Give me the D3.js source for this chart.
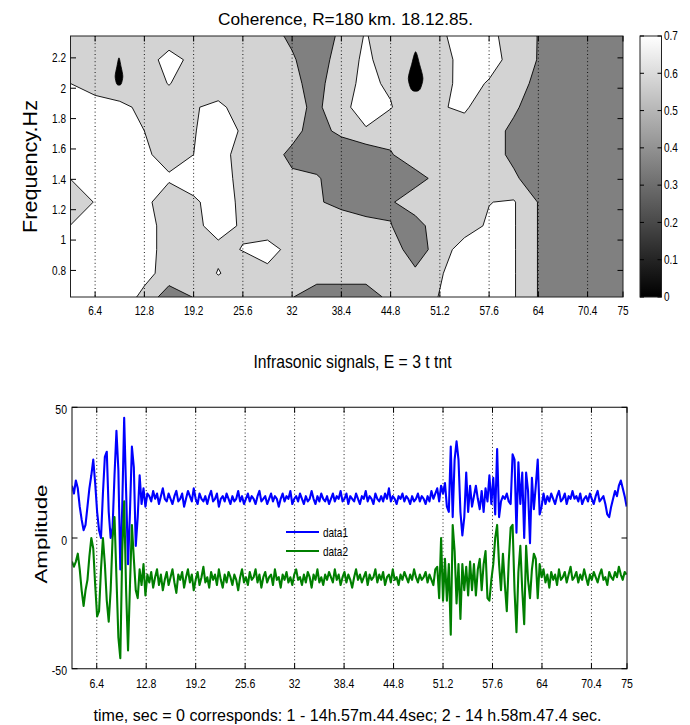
<!DOCTYPE html>
<html><head><meta charset="utf-8">
<script src="https://cdn.jsdelivr.net/npm/d3@7"></script>
<style>
body{margin:0;background:#fff}
svg{display:block}
text{font-family:Arial,"Liberation Sans",Helvetica,sans-serif;fill:#000}
</style>
</head><body>
<svg id="c" width="690" height="725"></svg>
<script>
// ---------------- DATA ----------------
const timeTicks = [6.4, 12.8, 19.2, 25.6, 32, 38.4, 44.8, 51.2, 57.6, 64, 70.4, 75];
const freqTicks = [0.8, 1, 1.2, 1.4, 1.6, 1.8, 2, 2.2];
const cohTicks = [0, 0.1, 0.2, 0.3, 0.4, 0.5, 0.6, 0.7];
const ampTicks = [-50, 0, 50];

// coherence grid: rows = frequencies (low -> high), columns = analysis windows
const winStart = 3.2, winStep = 3.2;       // s
const freqStart = 0.625, freqStep = 0.15625; // Hz
const coherence = [
  [.76,.76,.76,.673,.506,.585,.64,.64,.64,.585,.51,.51,.51,.616,.64,.705,.77,.77,.71,.575,.48,.48,.48,.48],
  [.76,.76,.76,.731,.66,.64,.705,.66,.673,.64,.64,.64,.64,.64,.615,.69,.76,.77,.71,.575,.48,.48,.48,.48],
  [.76,.76,.76,.76,.64,.64,.68,.703,.74,.665,.64,.64,.64,.68,.48,.669,.73,.74,.71,.575,.48,.48,.48,.48],
  [.702,.76,.76,.76,.64,.68,.73,.69,.64,.64,.64,.665,.631,.585,.50,.695,.67,.71,.71,.575,.48,.48,.48,.48],
  [.64,.705,.76,.745,.60,.682,.749,.678,.64,.64,.596,.54,.50,.56,.685,.64,.64,.698,.71,.575,.48,.48,.48,.48],
  [.702,.76,.76,.76,.721,.75,.76,.658,.64,.602,.60,.48,.48,.50,.513,.64,.64,.64,.603,.50,.48,.48,.48,.48],
  [.76,.76,.76,.727,.64,.70,.76,.64,.638,.55,.48,.46,.49,.566,.69,.64,.64,.64,.549,.50,.48,.48,.48,.48],
  [.76,.76,.76,.70,.64,.69,.78,.681,.64,.622,.52,.62,.695,.64,.64,.64,.64,.64,.549,.50,.48,.48,.48,.48],
  [.76,.76,.72,.68,.64,.69,.73,.64,.64,.624,.55,.686,.723,.705,.64,.69,.72,.615,.603,.50,.48,.48,.48,.48],
  [.70,.64,.64,.64,.705,.64,.62,.64,.64,.613,.53,.677,.716,.689,.64,.635,.76,.686,.647,.54,.48,.48,.48,.48],
  [.64,.64,.64,.64,.747,.667,.64,.64,.64,.599,.48,.669,.712,.669,.64,.632,.76,.76,.647,.575,.48,.48,.48,.48],
  [.64,.64,.64,.64,.63,.64,.64,.64,.64,.55,.48,.613,.71,.60,.64,.676,.76,.75,.617,.578,.48,.48,.48,.48]
];
const contourLevels = [0.35, 0.58, 0.7];

// isolated near-zero coherence spots (centre time/freq and extent)
const spotT = [9.5, 48.05];
const spotF = [2.11, 2.11];
const spotDT = [1.0, 1.9];
const spotDF = [0.18, 0.26];

// infrasonic signals, sampled every sigDt seconds from sigT0
const sigT0 = 3.2, sigDt = 0.25;
const data1 = [
20,17,22,19,12,7,3,5,12,19,
24,30,21,10,3,0,17,31,33,10,
0,4,24,41,26,-12,12,46,18,-10,
10,35,27,-3,8,24,13,19,12,17,
16,14,18,15,17,13,16,19,15,14,
17,15,13,16,18,14,15,17,12,15,
18,16,14,19,15,13,17,15,14,16,
13,16,18,14,15,17,12,15,16,14,
17,15,13,16,14,15,18,14,16,13,
15,17,14,16,15,13,16,18,14,15,
16,13,15,17,14,16,15,12,15,17,
14,16,15,18,13,15,16,14,17,15,
13,16,14,15,18,15,13,16,14,17,
15,14,16,13,15,17,14,16,15,18,
14,15,17,13,16,15,14,17,15,13,
16,15,18,14,16,15,13,17,15,14,
16,14,17,15,19,14,16,15,13,16,
15,17,14,16,15,13,16,14,15,17,
14,16,15,13,16,14,18,15,17,19,
14,20,17,21,12,10,35,8,30,37,
30,10,1,8,25,10,20,12,16,20,
15,11,18,10,19,14,24,13,23,9,
34,8,14,16,15,17,14,13,32,30,
2,29,13,25,0,25,18,-2,23,11,
20,30,9,12,17,13,16,14,17,15,
13,16,18,14,15,17,13,16,15,18,
15,16,14,17,13,15,16,14,17,15,
13,16,18,14,15,16,13,9,8,12,
15,18,16,20,22,19,16,12
];
const data2 = [
-9,-11,-9,-6,-12,-20,-26,-20,-16,-7,
0,-4,-18,-30,-28,-12,0,-10,-24,-32,
-20,0,8,-15,-38,-46,-5,14,-20,-43,
-18,5,-8,-20,-23,-12,-18,-10,-22,-14,
-17,-13,-19,-15,-12,-18,-14,-20,-16,-13,
-18,-15,-12,-17,-21,-14,-16,-13,-19,-15,
-12,-17,-14,-20,-16,-13,-18,-15,-11,-17,
-15,-19,-13,-16,-14,-18,-12,-16,-19,-14,
-17,-13,-15,-18,-14,-16,-20,-15,-12,-17,
-15,-18,-13,-16,-15,-12,-17,-14,-19,-15,
-13,-17,-15,-14,-18,-12,-16,-15,-19,-14,
-16,-13,-17,-15,-18,-14,-12,-16,-15,-18,
-14,-17,-13,-15,-19,-14,-16,-12,-17,-15,
-18,-14,-16,-13,-15,-17,-12,-16,-14,-18,
-15,-13,-17,-14,-16,-19,-15,-12,-16,-14,
-17,-15,-13,-18,-14,-16,-15,-12,-17,-14,
-16,-13,-18,-15,-14,-17,-12,-16,-15,-18,
-14,-16,-13,-15,-17,-14,-16,-12,-15,-17,
-14,-16,-15,-13,-17,-14,-16,-18,-12,-11,
-23,0,-24,-8,-24,-10,-37,5,-5,-25,
-10,-31,-10,-20,-11,-22,-9,-20,-10,-22,
-12,-8,-20,-10,-5,-23,-24,-16,-10,0,
5,-10,-20,-6,-18,-28,-9,4,5,-20,
-36,-13,-3,-20,-33,-3,-16,-23,-12,-6,
-8,-23,-10,-15,-12,-17,-14,-19,-13,-16,
-14,-18,-12,-16,-15,-13,-17,-14,-11,-16,
-15,-13,-17,-14,-16,-12,-15,-18,-14,-16,
-13,-15,-17,-14,-12,-16,-15,-18,-13,-15,
-16,-13,-15,-11,-14,-16,-13,-14
];
const seriesNames = ["data1", "data2"];
const seriesColors = ["#0000ff", "#007f00"];

// ---------------- DRAW ----------------
const svg = d3.select("#c");
const fmt = v => String(+v.toFixed(2));

function label(g, x, y, str, o) {
  o = o || {};
  const t = g.append("text")
    .attr("transform", `translate(${x},${y}) rotate(${o.rot || 0}) scale(${o.sx || 1},1)`)
    .attr("text-anchor", o.anchor || "start")
    .style("font-size", (o.size || 12) + "px")
    .text(str);
  if (o.len) t.attr("textLength", o.len).attr("lengthAdjust", "spacingAndGlyphs");
  return t;
}

// ===== top: coherence contour =====
const X1 = [70.5, 623], Y1 = [297, 36];
const x1 = d3.scaleLinear([3.2, 75], X1);
const y1 = d3.scaleLinear([0.625, 2.344], Y1);
const gray = d3.scaleLinear([0, 0.7], ["#000000", "#ffffff"]).clamp(true);

svg.append("clipPath").attr("id", "clipTop").append("rect")
  .attr("x", X1[0]).attr("y", Y1[1]).attr("width", X1[1] - X1[0]).attr("height", Y1[0] - Y1[1]);

const gTop = svg.append("g");
const plot = gTop.append("g").attr("clip-path", "url(#clipTop)");
plot.append("rect").attr("x", X1[0]).attr("y", Y1[1]).attr("width", X1[1] - X1[0]).attr("height", Y1[0] - Y1[1])
  .attr("fill", gray(0));

const nx = coherence[0].length, ny = coherence.length;
const contours = d3.contours().size([nx, ny]).thresholds(contourLevels)(coherence.flat());
const proj = p => [x1(winStart + (p[0] - 0.5) * winStep), y1(freqStart + (p[1] - 0.5) * freqStep)];
const geoPath = g => g.coordinates.map(poly => poly.map(ring =>
  "M" + ring.map(p => proj(p).map(v => v.toFixed(2)).join(",")).join("L") + "Z").join("")).join("");

plot.selectAll("path.lev").data(contours).join("path")
  .attr("class", "lev")
  .attr("d", geoPath)
  .attr("fill", d => gray(d.value))
  .attr("fill-rule", "evenodd")
  .attr("stroke", "#000").attr("stroke-width", 0.9).attr("stroke-linejoin", "round");

// low-coherence spots: drop shapes (pointed top, rounded bottom)
const dropLine = d3.line().curve(d3.curveCardinalClosed.tension(0.2));
plot.selectAll("path.spot").data(spotT).join("path")
  .attr("class", "spot")
  .attr("d", (t, i) => {
    const f = spotF[i], a = spotDT[i] / 2, b = spotDF[i] / 2;
    const pts = [[t, f + b], [t + a * 0.55, f + b * 0.35], [t + a, f - b * 0.35], [t + a * 0.6, f - b * 0.9],
                 [t, f - b], [t - a * 0.6, f - b * 0.9], [t - a, f - b * 0.35], [t - a * 0.55, f + b * 0.35]];
    return dropLine(pts.map(p => [x1(p[0]), y1(p[1])]));
  })
  .attr("fill", gray(0)).attr("stroke", "#000").attr("stroke-width", 0.8);

// dotted vertical grid
gTop.selectAll("line.grid").data(timeTicks.filter(t => t < 75)).join("line")
  .attr("x1", d => x1(d)).attr("x2", d => x1(d)).attr("y1", Y1[1]).attr("y2", Y1[0])
  .attr("stroke", "#000").attr("stroke-width", 0.9).attr("stroke-dasharray", "1,2.6");

// frame + ticks
gTop.append("rect").attr("x", X1[0]).attr("y", Y1[1]).attr("width", X1[1] - X1[0]).attr("height", Y1[0] - Y1[1])
  .attr("fill", "none").attr("stroke", "#222").attr("stroke-width", 1);
const tl = 5.5;
timeTicks.forEach(t => {
  gTop.append("line").attr("x1", x1(t)).attr("x2", x1(t)).attr("y1", Y1[0]).attr("y2", Y1[0] - tl).attr("stroke", "#000");
  gTop.append("line").attr("x1", x1(t)).attr("x2", x1(t)).attr("y1", Y1[1]).attr("y2", Y1[1] + tl).attr("stroke", "#000");
  label(gTop, x1(t), 315, fmt(t), {anchor: "middle", size: 12.5, sx: 0.8});
});
freqTicks.forEach(f => {
  gTop.append("line").attr("x1", X1[0]).attr("x2", X1[0] + tl).attr("y1", y1(f)).attr("y2", y1(f)).attr("stroke", "#000");
  gTop.append("line").attr("x1", X1[1]).attr("x2", X1[1] - tl).attr("y1", y1(f)).attr("y2", y1(f)).attr("stroke", "#000");
  label(gTop, 66, y1(f) + 4.3, fmt(f), {anchor: "end", size: 12.5, sx: 0.8});
});

// colorbar
const CB = [640, 661.5];
const yc = d3.scaleLinear([0, 0.7], Y1);
const grad = svg.append("defs").append("linearGradient").attr("id", "cbg")
  .attr("x1", 0).attr("y1", 1).attr("x2", 0).attr("y2", 0);
cohTicks.forEach(v => grad.append("stop").attr("offset", v / 0.7).attr("stop-color", gray(v)));
gTop.append("rect").attr("x", CB[0]).attr("y", yc(0.7)).attr("width", CB[1] - CB[0]).attr("height", yc(0) - yc(0.7))
  .attr("fill", "url(#cbg)").attr("stroke", "#222").attr("stroke-width", 1);
cohTicks.forEach(v => {
  gTop.append("line").attr("x1", CB[0]).attr("x2", CB[0] + 4).attr("y1", yc(v)).attr("y2", yc(v)).attr("stroke", "#000");
  gTop.append("line").attr("x1", CB[1]).attr("x2", CB[1] - 4).attr("y1", yc(v)).attr("y2", yc(v)).attr("stroke", "#000");
  label(gTop, 664, yc(v) + 4.3, fmt(v), {size: 12.5, sx: 0.8});
});

label(gTop, 345.5, 25, "Coherence, R=180 km. 18.12.85.", {anchor: "middle", size: 16.5, len: 255});
label(gTop, 36.5, 166.5, "Frequency.Hz", {anchor: "middle", size: 19.5, rot: -90, len: 133});

// ===== bottom: signals =====
const X2 = [72, 627], Y2 = [668.7, 407.3];
const x2 = d3.scaleLinear([3.2, 75], X2);
const y2 = d3.scaleLinear([-50, 50], Y2);
const bot = svg.append("g");
bot.append("rect").attr("x", X2[0]).attr("y", Y2[1]).attr("width", X2[1] - X2[0]).attr("height", Y2[0] - Y2[1])
  .attr("fill", "#fff");
bot.selectAll("line.grid").data(timeTicks.filter(t => t < 75)).join("line")
  .attr("x1", d => x2(d)).attr("x2", d => x2(d)).attr("y1", Y2[1]).attr("y2", Y2[0])
  .attr("stroke", "#000").attr("stroke-width", 0.9).attr("stroke-dasharray", "1,2.6");

svg.append("clipPath").attr("id", "clipBot").append("rect")
  .attr("x", X2[0]).attr("y", Y2[1]).attr("width", X2[1] - X2[0]).attr("height", Y2[0] - Y2[1]);
const line = d3.line().x((d, i) => x2(sigT0 + i * sigDt)).y(d => y2(d));
const series = [data1, data2];
bot.append("g").attr("clip-path", "url(#clipBot)").selectAll("path").data(series).join("path")
  .attr("d", line).attr("fill", "none")
  .attr("stroke", (d, i) => seriesColors[i]).attr("stroke-width", 2.1).attr("stroke-linejoin", "round");

bot.append("rect").attr("x", X2[0]).attr("y", Y2[1]).attr("width", X2[1] - X2[0]).attr("height", Y2[0] - Y2[1])
  .attr("fill", "none").attr("stroke", "#333").attr("stroke-width", 1.2);
timeTicks.forEach(t => {
  bot.append("line").attr("x1", x2(t)).attr("x2", x2(t)).attr("y1", Y2[0]).attr("y2", Y2[0] - tl).attr("stroke", "#000");
  bot.append("line").attr("x1", x2(t)).attr("x2", x2(t)).attr("y1", Y2[1]).attr("y2", Y2[1] + tl).attr("stroke", "#000");
  label(bot, x2(t), 688, fmt(t), {anchor: "middle", size: 13.5, sx: 0.78});
});
ampTicks.forEach(a => {
  bot.append("line").attr("x1", X2[0]).attr("x2", X2[0] + tl).attr("y1", y2(a)).attr("y2", y2(a)).attr("stroke", "#000");
  bot.append("line").attr("x1", X2[1]).attr("x2", X2[1] - tl).attr("y1", y2(a)).attr("y2", y2(a)).attr("stroke", "#000");
  label(bot, 67, y2(a) + 6.5, String(a), {anchor: "end", size: 13.5, sx: 0.78});
});

// legend
const lg = bot.append("g");
seriesNames.forEach((n, i) => {
  const yy = 532 + i * 19;
  lg.append("line").attr("x1", 286).attr("x2", 319).attr("y1", yy).attr("y2", yy)
    .attr("stroke", seriesColors[i]).attr("stroke-width", 2);
  label(lg, 323, yy + 4.5, n, {size: 12.5, sx: 0.8});
});

label(bot, 352.5, 367.5, "Infrasonic signals, E = 3 t tnt", {anchor: "middle", size: 17.5, len: 198});
label(bot, 46.5, 534, "Amplitude", {anchor: "middle", size: 16, rot: -90, len: 99});
label(bot, 347.5, 720.5, "time, sec = 0 corresponds: 1 - 14h.57m.44.4sec; 2 - 14 h.58m.47.4 sec.", {anchor: "middle", size: 17, len: 508});
</script>
</body></html>
